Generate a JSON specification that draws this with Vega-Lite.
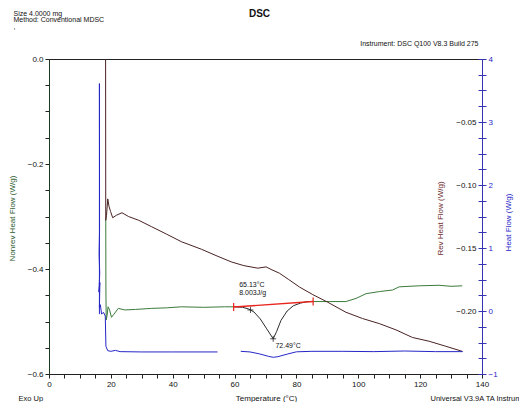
{
  "$schema": "https://vega.github.io/schema/vega-lite/v6.json",
  "width": 433,
  "height": 315,
  "autosize": {"type": "none"},
  "padding": {"left": 49, "top": 59, "right": 37, "bottom": 28},
  "title": {"text": "DSC", "fontSize": 10, "fontWeight": "bold", "anchor": "middle", "frame": "group", "dx": -6, "offset": -10},
  "datasets": {
    "nonrev": [
      {"i": 1, "T": 18.35, "G": -0.305, "seg": "a"},
      {"i": 2, "T": 18.4, "G": -0.44, "seg": "a"},
      {"i": 3, "T": 18.5, "G": -0.497, "seg": "a"},
      {"i": 4, "T": 18.8, "G": -0.488, "seg": "a"},
      {"i": 5, "T": 19.1, "G": -0.472, "seg": "a"},
      {"i": 6, "T": 19.6, "G": -0.478, "seg": "a"},
      {"i": 7, "T": 20.2, "G": -0.492, "seg": "a"},
      {"i": 8, "T": 21.0, "G": -0.486, "seg": "a"},
      {"i": 9, "T": 22.4, "G": -0.475, "seg": "a"},
      {"i": 10, "T": 24.5, "G": -0.478, "seg": "a"},
      {"i": 11, "T": 28.0, "G": -0.477, "seg": "a"},
      {"i": 12, "T": 33.1, "G": -0.475, "seg": "a"},
      {"i": 13, "T": 38.0, "G": -0.474, "seg": "a"},
      {"i": 14, "T": 42.8, "G": -0.472, "seg": "a"},
      {"i": 15, "T": 50.0, "G": -0.473, "seg": "a"},
      {"i": 16, "T": 56.8, "G": -0.472, "seg": "a"},
      {"i": 17, "T": 60.0, "G": -0.472, "seg": "a"},
      {"i": 18, "T": 60.0, "G": -0.472, "seg": "b"},
      {"i": 19, "T": 62.6, "G": -0.473, "seg": "b"},
      {"i": 20, "T": 64.5, "G": -0.476, "seg": "b"},
      {"i": 21, "T": 66.3, "G": -0.482, "seg": "b"},
      {"i": 22, "T": 68.3, "G": -0.495, "seg": "b"},
      {"i": 23, "T": 70.4, "G": -0.514, "seg": "b"},
      {"i": 24, "T": 72.49, "G": -0.533, "seg": "b"},
      {"i": 25, "T": 73.6, "G": -0.519, "seg": "b"},
      {"i": 26, "T": 75.0, "G": -0.498, "seg": "b"},
      {"i": 27, "T": 77.0, "G": -0.48, "seg": "b"},
      {"i": 28, "T": 79.0, "G": -0.47, "seg": "b"},
      {"i": 29, "T": 81.3, "G": -0.465, "seg": "b"},
      {"i": 30, "T": 83.5, "G": -0.462, "seg": "b"},
      {"i": 31, "T": 85.6, "G": -0.462, "seg": "b"},
      {"i": 32, "T": 85.6, "G": -0.462, "seg": "c"},
      {"i": 33, "T": 90.6, "G": -0.462, "seg": "c"},
      {"i": 34, "T": 96.0, "G": -0.462, "seg": "c"},
      {"i": 35, "T": 99.3, "G": -0.456, "seg": "c"},
      {"i": 36, "T": 102.5, "G": -0.447, "seg": "c"},
      {"i": 37, "T": 106.8, "G": -0.443, "seg": "c"},
      {"i": 38, "T": 111.1, "G": -0.44, "seg": "c"},
      {"i": 39, "T": 113.2, "G": -0.434, "seg": "c"},
      {"i": 40, "T": 119.7, "G": -0.432, "seg": "c"},
      {"i": 41, "T": 126.1, "G": -0.431, "seg": "c"},
      {"i": 42, "T": 130.0, "G": -0.433, "seg": "c"},
      {"i": 43, "T": 133.6, "G": -0.432, "seg": "c"}
    ],
    "rev": [
      {"i": 1, "T": 18.3, "R": 0.0},
      {"i": 2, "T": 18.35, "R": -0.128},
      {"i": 3, "T": 18.6, "R": -0.124},
      {"i": 4, "T": 19.0, "R": -0.111},
      {"i": 5, "T": 19.4, "R": -0.117},
      {"i": 6, "T": 19.9, "R": -0.121},
      {"i": 7, "T": 20.6, "R": -0.126},
      {"i": 8, "T": 21.8, "R": -0.124},
      {"i": 9, "T": 23.6, "R": -0.122},
      {"i": 10, "T": 25.7, "R": -0.125},
      {"i": 11, "T": 29.0, "R": -0.128},
      {"i": 12, "T": 33.1, "R": -0.133},
      {"i": 13, "T": 38.0, "R": -0.139},
      {"i": 14, "T": 42.8, "R": -0.145},
      {"i": 15, "T": 49.3, "R": -0.151},
      {"i": 16, "T": 54.0, "R": -0.156},
      {"i": 17, "T": 58.9, "R": -0.161},
      {"i": 18, "T": 63.0, "R": -0.164},
      {"i": 19, "T": 67.5, "R": -0.166},
      {"i": 20, "T": 70.2, "R": -0.165},
      {"i": 21, "T": 71.8, "R": -0.167},
      {"i": 22, "T": 74.5, "R": -0.17},
      {"i": 23, "T": 77.5, "R": -0.175},
      {"i": 24, "T": 81.0, "R": -0.181},
      {"i": 25, "T": 85.3, "R": -0.187},
      {"i": 26, "T": 90.1, "R": -0.193},
      {"i": 27, "T": 96.0, "R": -0.201},
      {"i": 28, "T": 101.4, "R": -0.206},
      {"i": 29, "T": 106.8, "R": -0.21},
      {"i": 30, "T": 112.2, "R": -0.215},
      {"i": 31, "T": 117.5, "R": -0.221},
      {"i": 32, "T": 122.9, "R": -0.224},
      {"i": 33, "T": 128.3, "R": -0.228},
      {"i": 34, "T": 133.6, "R": -0.232}
    ],
    "heat": [
      {"i": 1, "T": 16.3, "H": -0.05, "seg": "a"},
      {"i": 2, "T": 16.3, "H": 3.61, "seg": "a"},
      {"i": 3, "T": 16.35, "H": 1.3, "seg": "a"},
      {"i": 4, "T": 16.2, "H": 0.9, "seg": "a"},
      {"i": 5, "T": 16.4, "H": 0.6, "seg": "a"},
      {"i": 6, "T": 16.15, "H": 0.3, "seg": "a"},
      {"i": 7, "T": 16.45, "H": 0.45, "seg": "a"},
      {"i": 8, "T": 16.3, "H": 0.05, "seg": "a"},
      {"i": 9, "T": 16.6, "H": 0.1, "seg": "a"},
      {"i": 10, "T": 17.0, "H": -0.05, "seg": "a"},
      {"i": 11, "T": 17.6, "H": -0.02, "seg": "a"},
      {"i": 12, "T": 18.2, "H": -0.08, "seg": "a"},
      {"i": 13, "T": 18.4, "H": -0.56, "seg": "a"},
      {"i": 14, "T": 19.0, "H": -0.63, "seg": "a"},
      {"i": 15, "T": 20.0, "H": -0.64, "seg": "a"},
      {"i": 16, "T": 21.5, "H": -0.625, "seg": "a"},
      {"i": 17, "T": 23.0, "H": -0.645, "seg": "a"},
      {"i": 18, "T": 30.0, "H": -0.65, "seg": "a"},
      {"i": 19, "T": 40.0, "H": -0.65, "seg": "a"},
      {"i": 20, "T": 54.5, "H": -0.65, "seg": "a"},
      {"i": 21, "T": 62.0, "H": -0.64, "seg": "b"},
      {"i": 22, "T": 65.0, "H": -0.65, "seg": "b"},
      {"i": 23, "T": 68.0, "H": -0.68, "seg": "b"},
      {"i": 24, "T": 71.0, "H": -0.72, "seg": "b"},
      {"i": 25, "T": 72.5, "H": -0.735, "seg": "b"},
      {"i": 26, "T": 74.0, "H": -0.725, "seg": "b"},
      {"i": 27, "T": 77.0, "H": -0.685, "seg": "b"},
      {"i": 28, "T": 80.0, "H": -0.648, "seg": "b"},
      {"i": 29, "T": 85.0, "H": -0.64, "seg": "b"},
      {"i": 30, "T": 95.0, "H": -0.64, "seg": "b"},
      {"i": 31, "T": 105.0, "H": -0.645, "seg": "b"},
      {"i": 32, "T": 115.0, "H": -0.635, "seg": "b"},
      {"i": 33, "T": 125.0, "H": -0.645, "seg": "b"},
      {"i": 34, "T": 133.8, "H": -0.645, "seg": "b"}
    ],
    "bracket": [
      {"T": 59.7, "G": -0.4725},
      {"T": 85.4, "G": -0.462}
    ],
    "notes": [
      {"T": 61.5, "G": -0.4305, "label": "65.13°C"},
      {"T": 61.5, "G": -0.445, "label": "8.003J/g"},
      {"T": 73.2, "G": -0.547, "label": "72.49°C"}
    ],
    "peaks": [
      {"T": 65.13, "G": -0.478},
      {"T": 72.49, "G": -0.533}
    ]
  },
  "layer": [
    {
      "data": {"name": "nonrev"},
      "mark": {"type": "line", "strokeWidth": 1},
      "encoding": {
        "x": {
          "field": "T", "type": "quantitative",
          "scale": {"domain": [0, 140], "nice": false, "zero": false},
          "axis": {
            "orient": "bottom",
            "values": [0, 5, 10, 15, 20, 25, 30, 35, 40, 45, 50, 55, 60, 65, 70, 75, 80, 85, 90, 95, 100, 105, 110, 115, 120, 125, 130, 135, 140],
            "labelExpr": "datum.value % 20 == 0 ? datum.label : ''",
            "labelFlush": false, "labelOverlap": false,
            "title": "Temperature (°C)",
            "titleX": 217, "titleY": 26, "titleAlign": "center", "titleBaseline": "alphabetic"
          }
        },
        "y": {
          "field": "G", "type": "quantitative",
          "scale": {"domain": [-0.6, 0], "nice": false, "zero": false},
          "axis": {
            "orient": "left",
            "values": [-0.6, -0.55, -0.5, -0.45, -0.4, -0.35, -0.3, -0.25, -0.2, -0.15, -0.1, -0.05, 0],
            "labelExpr": "round(datum.value * 100) % 20 == 0 ? format(datum.value, '.1f') : ''",
            "labelOverlap": false,
            "domainColor": "#1c3a1c",
            "title": "Nonrev Heat Flow (W/g)", "titleColor": "#2a5a2a",
            "titleX": -37, "titleY": 159, "titleAngle": -90, "titleAlign": "center", "titleBaseline": "middle"
          }
        },
        "color": {
          "field": "seg", "type": "nominal",
          "scale": {"domain": ["a", "b", "c"], "range": ["#3b7b3b", "#2b2b2b", "#3b7b3b"]},
          "legend": null
        },
        "order": {"field": "i"}
      }
    },
    {
      "data": {"name": "rev"},
      "mark": {"type": "line", "strokeWidth": 1, "color": "#4a2222"},
      "encoding": {
        "x": {
          "field": "T", "type": "quantitative",
          "scale": {"domain": [0, 140], "nice": false, "zero": false},
          "axis": {
            "orient": "top", "domain": false, "ticks": false, "labels": false,
            "title": "Instrument: DSC Q100 V8.3 Build 275", "titleFontSize": 7,
            "titleX": 429, "titleY": -14, "titleAlign": "right", "titleBaseline": "alphabetic"
          }
        },
        "y": {
          "field": "R", "type": "quantitative",
          "scale": {"domain": [-0.25, 0], "nice": false, "zero": false},
          "axis": {
            "orient": "left", "offset": -433, "domain": false,
            "values": [-0.25, -0.2375, -0.225, -0.2125, -0.2, -0.1875, -0.175, -0.1625, -0.15, -0.1375, -0.125, -0.1125, -0.1, -0.0875, -0.075, -0.0625, -0.05, -0.0375, -0.025, -0.0125, 0],
            "labelExpr": "abs(round(datum.value * 10000)) % 500 == 0 && datum.value < -0.01 && datum.value > -0.24 ? format(datum.value, '.2f') : ''",
            "labelOverlap": false,
            "tickColor": "#3434b4",
            "title": "Rev Heat Flow (W/g)", "titleColor": "#6e2a2a",
            "titleX": -42, "titleY": 159, "titleAngle": -90, "titleAlign": "center", "titleBaseline": "middle"
          }
        },
        "order": {"field": "i"}
      }
    },
    {
      "data": {"name": "heat"},
      "mark": {"type": "line", "strokeWidth": 1, "color": "#2626c8"},
      "encoding": {
        "x": {
          "field": "T", "type": "quantitative",
          "scale": {"domain": [0, 140], "nice": false, "zero": false},
          "axis": {
            "orient": "bottom", "domain": false, "ticks": false, "labels": false,
            "title": "Universal V3.9A TA Instruments", "titleFontSize": 7.5,
            "titleX": 381, "titleY": 26, "titleAlign": "left", "titleBaseline": "alphabetic"
          }
        },
        "y": {
          "field": "H", "type": "quantitative",
          "scale": {"domain": [-1, 4], "nice": false, "zero": false},
          "axis": {
            "orient": "right",
            "values": [-1, -0.75, -0.5, -0.25, 0, 0.25, 0.5, 0.75, 1, 1.25, 1.5, 1.75, 2, 2.25, 2.5, 2.75, 3, 3.25, 3.5, 3.75, 4],
            "labelExpr": "round(datum.value * 100) % 100 == 0 ? format(datum.value, 'd') : ''",
            "labelOverlap": false,
            "domainColor": "#3434b4", "tickColor": "#3434b4", "labelColor": "#2626c8",
            "title": "Heat Flow (W/g)", "titleColor": "#2626c8",
            "titleX": 26, "titleY": 163, "titleAngle": -90, "titleAlign": "center", "titleBaseline": "middle"
          }
        },
        "detail": {"field": "seg"},
        "order": {"field": "i"}
      }
    },
    {
      "data": {"name": "bracket"},
      "encoding": {
        "x": {
          "field": "T", "type": "quantitative",
          "scale": {"domain": [0, 140], "nice": false, "zero": false},
          "axis": {
            "orient": "bottom", "domain": false, "ticks": false, "labels": false,
            "title": "Exo Up", "titleFontSize": 7.5,
            "titleX": -31, "titleY": 26, "titleAlign": "left", "titleBaseline": "alphabetic"
          }
        },
        "y": {
          "field": "G", "type": "quantitative",
          "scale": {"domain": [-0.6, 0], "nice": false, "zero": false},
          "axis": null
        }
      },
      "layer": [
        {"mark": {"type": "line", "color": "#e8241c", "strokeWidth": 1.4}},
        {"mark": {"type": "point", "shape": "M0,-1V1", "size": 64, "filled": false, "stroke": "#e8241c", "strokeWidth": 1.2, "opacity": 1}}
      ]
    },
    {
      "encoding": {
        "x": {
          "field": "T", "type": "quantitative",
          "scale": {"domain": [0, 140], "nice": false, "zero": false},
          "axis": {
            "orient": "top", "domain": false, "ticks": false, "labels": false,
            "title": ["Size   4.0000 mg", "Method: Conventional MDSC", ","],
            "titleFontSize": 7, "titleLineHeight": 6.5,
            "titleX": -36, "titleY": -50, "titleAlign": "left", "titleBaseline": "top"
          }
        },
        "y": {
          "field": "G", "type": "quantitative",
          "scale": {"domain": [-0.6, 0], "nice": false, "zero": false},
          "axis": null
        }
      },
      "layer": [
        {
          "data": {"name": "notes"},
          "mark": {"type": "text", "align": "left", "baseline": "middle", "fontSize": 7, "color": "#111"},
          "encoding": {"text": {"field": "label"}}
        },
        {
          "data": {"name": "peaks"},
          "mark": {"type": "point", "shape": "M-1,0H1M0,-1V1", "size": 36, "filled": false, "stroke": "#222", "strokeWidth": 0.8, "opacity": 1}
        }
      ]
    }
  ],
  "resolve": {"scale": {"x": "independent", "y": "independent"}},
  "config": {
    "font": "Liberation Sans",
    "view": {"stroke": "#222", "strokeWidth": 1},
    "axis": {
      "grid": false,
      "labelFontSize": 8,
      "labelColor": "#111",
      "labelPadding": 2,
      "titleFontSize": 8,
      "titleFontWeight": "normal",
      "titleColor": "#111",
      "domainColor": "#222",
      "tickColor": "#222",
      "tickSize": 4
    },
    "title": {"font": "Liberation Sans", "color": "#111"}
  }
}
